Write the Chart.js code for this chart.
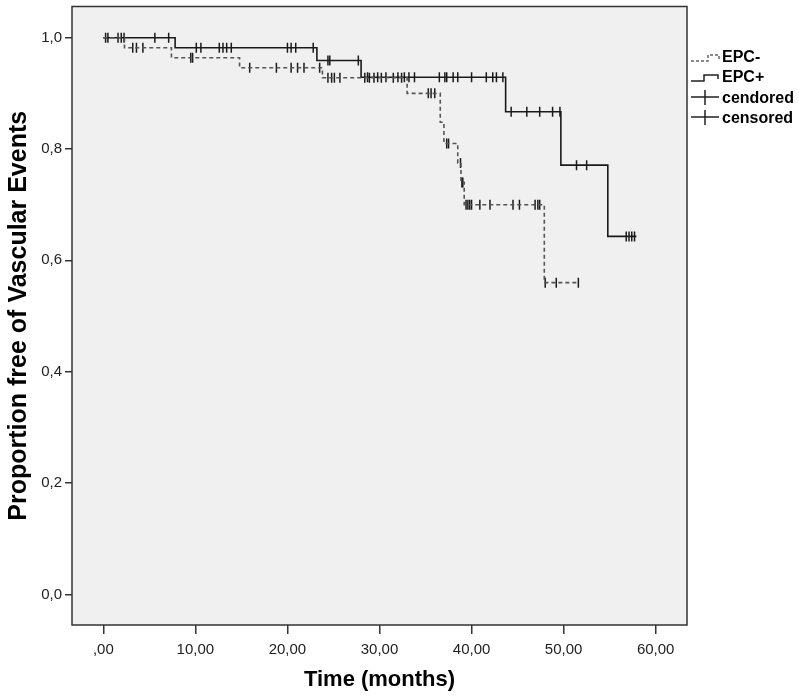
<!DOCTYPE html>
<html>
<head>
<meta charset="utf-8">
<script src="https://cdn.jsdelivr.net/npm/chart.js@4.4.1/dist/chart.umd.min.js"></script>
<style>
  body { margin: 0; background: #fff; }
  canvas { display: block; }
</style>
</head>
<body>
<canvas id="km" width="799" height="696"></canvas>
<script>
// Kaplan-Meier steps (time in months, proportion after the step)
const epcMinusTimes = [0, 2.3, 7.4, 14.8, 23.8, 33.0, 36.6, 37.0, 38.5, 38.85, 39.2, 47.9, 51.6];
const epcMinusSurv  = [1, 0.982, 0.964, 0.946, 0.928, 0.900, 0.848, 0.810, 0.775, 0.740, 0.700, 0.560, 0.560];
const epcPlusTimes  = [0, 7.8, 23.2, 28.0, 43.7, 49.7, 54.8, 57.9];
const epcPlusSurv   = [1, 0.982, 0.959, 0.929, 0.867, 0.771, 0.643, 0.643];

// censored times
const epcMinusCensored = [3.2, 3.6, 4.3, 9.5, 9.7, 15.9, 18.8, 20.4, 21.1, 21.8, 23.5,
  24.4, 24.8, 25.1, 25.7, 28.4, 28.9, 29.4, 30.2, 31.5, 32.4,
  35.3, 35.6, 36.0, 37.3, 37.5, 38.8, 38.95, 39.05,
  39.4, 39.6, 39.8, 40.0, 40.9, 42.0, 44.5, 45.2, 46.9, 47.2, 47.4,
  48.0, 49.2, 51.6];
const epcPlusCensored = [0.25, 0.5, 1.6, 1.95, 2.25, 5.6, 7.1,
  10.1, 10.6, 12.6, 13.0, 13.4, 13.9, 20.0, 20.4, 20.9, 22.8,
  24.4, 24.6, 27.7,
  28.7, 29.8, 30.7, 32.0, 32.7, 33.2, 33.8, 36.5, 37.1, 37.3, 38.0, 38.5, 40.0, 41.6, 42.3, 42.7, 43.4,
  44.3, 46.0, 47.4, 48.8, 49.6, 51.4, 52.5,
  56.8, 57.1, 57.4, 57.7];

const xTicks = [0, 10, 20, 30, 40, 50, 60];
const yTicks = [0, 0.2, 0.4, 0.6, 0.8, 1.0];
const legendLabels = ["EPC-", "EPC+", "cendored", "censored"];

function survAt(times, surv, t) {
  let s = surv[0];
  for (let i = 0; i < times.length; i++) {
    if (times[i] <= t) s = surv[i];
  }
  return s;
}

const toPoints = (times, surv) => times.map((t, i) => ({ x: t, y: surv[i] }));
const censorPoints = (cens, times, surv) => cens.map(t => ({ x: t, y: survAt(times, surv, t) }));

const FONT = "'Liberation Sans', Arial, sans-serif";

const plotBg = {
  id: "plotBg",
  beforeDraw(chart) {
    const { ctx, chartArea: a } = chart;
    ctx.save();
    ctx.fillStyle = "#f0f0f0";
    ctx.fillRect(a.left, a.top, a.right - a.left, a.bottom - a.top);
    ctx.restore();
  },
  afterDraw(chart) {
    const { ctx, chartArea: a } = chart;
    ctx.save();
    ctx.strokeStyle = "#333";
    ctx.lineWidth = 1.5;
    ctx.strokeRect(a.left, a.top, a.right - a.left, a.bottom - a.top);

    // legend on the right
    const x0 = 691, x1 = 720, rowY = [58, 78, 99, 119];
    ctx.lineWidth = 1.5;
    // dashed step
    ctx.strokeStyle = "#666";
    ctx.setLineDash([3, 2]);
    ctx.beginPath();
    ctx.moveTo(x0, rowY[0] + 3);
    ctx.lineTo(x0 + 17, rowY[0] + 3);
    ctx.lineTo(x0 + 17, rowY[0] - 3);
    ctx.lineTo(x1 - 1, rowY[0] - 3);
    ctx.lineTo(x1 - 1, rowY[0] + 1);
    ctx.stroke();
    ctx.setLineDash([]);
    // solid step
    ctx.strokeStyle = "#222";
    ctx.beginPath();
    ctx.moveTo(x0, rowY[1] + 3);
    ctx.lineTo(x0 + 13, rowY[1] + 3);
    ctx.lineTo(x0 + 13, rowY[1] - 3);
    ctx.lineTo(x1 - 2, rowY[1] - 3);
    ctx.lineTo(x1 - 2, rowY[1] + 1);
    ctx.stroke();
    // censor marks
    [rowY[2], rowY[3]].forEach(y => {
      ctx.beginPath();
      ctx.moveTo(x0, y - 2);
      ctx.lineTo(x1 - 1, y - 2);
      ctx.moveTo(x0 + 14, y - 9);
      ctx.lineTo(x0 + 14, y + 6);
      ctx.stroke();
    });
    ctx.fillStyle = "#000";
    ctx.font = "bold 16px " + FONT;
    ctx.textBaseline = "middle";
    legendLabels.forEach((lab, i) => ctx.fillText(lab, 722, rowY[i]));
    ctx.restore();
  }
};

const decimalComma = (v, digits) => {
  const s = v.toFixed(digits).replace(".", ",");
  return s.startsWith("0,") && digits === 2 ? s.slice(1) : s;
};

new Chart(document.getElementById("km"), {
  type: "scatter",
  data: {
    datasets: [
      {
        label: "EPC-",
        data: toPoints(epcMinusTimes, epcMinusSurv),
        showLine: true,
        stepped: true,
        borderColor: "#555",
        borderWidth: 1.6,
        borderDash: [4, 3],
        pointRadius: 0
      },
      {
        label: "EPC+",
        data: toPoints(epcPlusTimes, epcPlusSurv),
        showLine: true,
        stepped: true,
        borderColor: "#1a1a1a",
        borderWidth: 1.6,
        pointRadius: 0
      },
      {
        label: "cendored",
        data: censorPoints(epcMinusCensored, epcMinusTimes, epcMinusSurv),
        showLine: false,
        pointStyle: "line",
        rotation: 90,
        pointRadius: 5,
        borderColor: "#1a1a1a",
        borderWidth: 1.5
      },
      {
        label: "censored",
        data: censorPoints(epcPlusCensored, epcPlusTimes, epcPlusSurv),
        showLine: false,
        pointStyle: "line",
        rotation: 90,
        pointRadius: 5,
        borderColor: "#1a1a1a",
        borderWidth: 1.5
      }
    ]
  },
  options: {
    responsive: false,
    animation: false,
    layout: { padding: { top: 5, right: 112, left: 0, bottom: 0 } },
    plugins: { legend: { display: false }, tooltip: { enabled: false } },
    scales: {
      x: {
        type: "linear",
        min: -3.4,
        max: 63.4,
        afterBuildTicks: s => { s.ticks = xTicks.map(v => ({ value: v })); },
        afterFit: s => { s.height = 71; s.paddingLeft = 0; s.paddingRight = 0; },
        grid: { drawOnChartArea: false, drawTicks: true, tickLength: 9, color: "#333", lineWidth: 1.5 },
        border: { display: false },
        ticks: {
          padding: 7,
          color: "#222",
          font: { family: FONT, size: 15 },
          maxRotation: 0,
          callback: v => decimalComma(v, 2)
        },
        title: {
          display: true,
          text: "Time (months)",
          color: "#000",
          font: { family: FONT, size: 22, weight: "bold" },
          padding: { top: 0, bottom: 3 }
        }
      },
      y: {
        min: -0.055,
        max: 1.056,
        afterBuildTicks: s => { s.ticks = yTicks.map(v => ({ value: v })); },
        afterFit: s => { s.width = 72; s.paddingTop = 0; s.paddingBottom = 0; },
        grid: { drawOnChartArea: false, drawTicks: true, tickLength: 7, color: "#333", lineWidth: 1.5 },
        border: { display: false },
        ticks: {
          padding: 3,
          color: "#222",
          font: { family: FONT, size: 15 },
          callback: v => decimalComma(v, 1)
        },
        title: {
          display: true,
          text: "Proportion free of Vascular Events",
          color: "#000",
          font: { family: FONT, size: 25, weight: "bold" },
          padding: { top: 4, bottom: 0 }
        }
      }
    }
  },
  plugins: [plotBg]
});
</script>
</body>
</html>
